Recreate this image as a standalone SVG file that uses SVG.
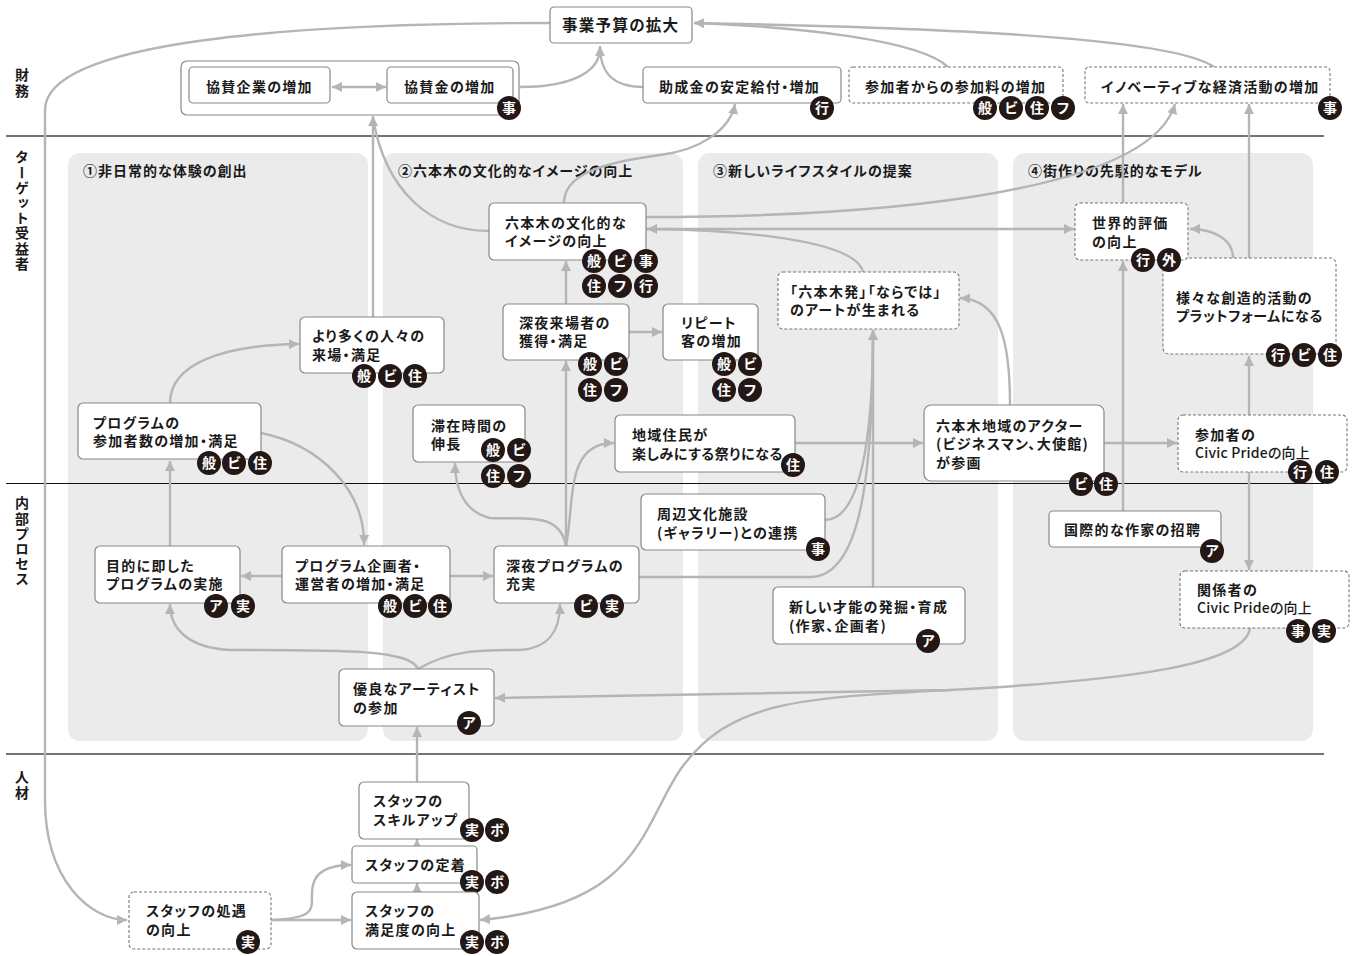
<svg xmlns="http://www.w3.org/2000/svg" width="1354" height="956" viewBox="0 0 1354 956">
<style>
text{font-family:"Noto Sans CJK JP","Noto Sans",sans-serif;font-weight:700;fill:#1a1a1a;font-feature-settings:"palt"}
.t{font-size:14px;letter-spacing:1.3px}
.h{font-size:14px;letter-spacing:1px}
.s{font-size:14px;letter-spacing:1.2px;writing-mode:vertical-rl;font-feature-settings:normal}
.n{fill:#fff;stroke:#888;stroke-width:1.2}
.d{fill:#fff;stroke:#777;stroke-width:1.1;stroke-dasharray:3 2}
.p{fill:#ebebeb}
.c path{fill:none;stroke:#b5b5b5;stroke-width:2.4}
.a{marker-end:url(#ah)}
.b{marker-start:url(#as);marker-end:url(#ah)}
.bg{fill:#231815}
.k{fill:#fff;font-size:14px;text-anchor:middle}
.r{stroke:#444;stroke-width:1.4}
.v{font-weight:500;letter-spacing:.2px}
</style>
<defs>
<marker id="ah" markerUnits="userSpaceOnUse" markerWidth="12" markerHeight="12" refX="10" refY="6" orient="auto"><path d="M0,1 L10,6 L0,11 Z" fill="#b5b5b5"/></marker>
<marker id="as" markerUnits="userSpaceOnUse" markerWidth="12" markerHeight="12" refX="0" refY="6" orient="auto"><path d="M10,1 L0,6 L10,11 Z" fill="#b5b5b5"/></marker>
</defs>
<rect width="1354" height="956" fill="#fff"/>
<g id="panels">
<rect class="p" x="68" y="153" width="300" height="588" rx="12"/>
<rect class="p" x="383" y="153" width="300" height="588" rx="12"/>
<rect class="p" x="698" y="153" width="300" height="588" rx="12"/>
<rect class="p" x="1013" y="153" width="300" height="588" rx="12"/>
<text class="h" x="83" y="176">①非日常的な体験の創出</text>
<text class="h" x="398" y="176">②六本木の文化的なイメージの向上</text>
<text class="h" x="713" y="176">③新しいライフスタイルの提案</text>
<text class="h" x="1028" y="176">④街作りの先駆的なモデル</text>
</g>
<g id="rows">
<line class="r" x1="6" y1="136" x2="1324" y2="136"/>
<line x1="6" y1="483.500" x2="1324" y2="483.500" stroke="#111" stroke-width="1"/>
<line class="r" x1="6" y1="754" x2="1324" y2="754"/>
<text class="s" x="22" y="68">財務</text>
<text class="s" x="22" y="150">ターゲット受益者</text>
<text class="s" x="22" y="496">内部プロセス</text>
<text class="s" x="22" y="770">人材</text>
</g>
<g id="n-group"><rect class="n" x="181" y="61" width="338" height="54" rx="6"/></g>
<g id="connectors" class="c">
<path class="a" d="M550,23 C300,23 45,40 45,110 L45,800 C45,880 90,920 127,920"/>
<path d="M520,87 C565,87 600,75 600,48"/>
<path class="a" d="M643,87 C615,87 600,75 600,46"/>
<path d="M948,67 C920,40 800,27 695,23"/>
<path class="a" d="M1214,67 C1170,35 900,27 694,23"/>
<path class="b" d="M332,87 L386,87"/>
<path class="a" d="M373,317 L373,116"/>
<path d="M489,231 C430,231 385,190 373,118"/>
<path class="a" d="M564,203 C564,175 600,163 660,155 C700,150 730,130 735,104"/>
<path class="a" d="M646,217 C900,217 1150,190 1175,104"/>
<path class="a" d="M646,229 L1074,229"/>
<path class="a" d="M863,272 C855,235 700,229 647,229"/>
<path class="a" d="M1123,203 L1123,104"/>
<path class="a" d="M1249,258 L1249,104"/>
<path class="a" d="M1233,258 C1233,240 1215,229 1190,229"/>
<path class="a" d="M1123,511 L1123,261"/>
<path class="a" d="M1249,415 L1249,356"/>
<path class="a" d="M1249,472 L1249,570"/>
<path class="a" d="M1250,628 C1245,665 1130,680 950,690 L495,698"/>
<path class="a" d="M950,690 C800,698 730,700 680,770 C640,830 640,905 480,920"/>
<path class="a" d="M170,403 C170,365 220,345 299,344"/>
<path class="a" d="M261,433 C320,445 365,490 364,545"/>
<path class="a" d="M170,546 L170,461"/>
<path class="a" d="M282,576 L241,576"/>
<path class="a" d="M450,576 L493,576"/>
<path class="a" d="M566,546 C560,510 520,520 490,518 C465,512 455,490 455,463"/>
<path class="a" d="M566,546 L566,361"/>
<path class="a" d="M566,304 L566,261"/>
<path class="a" d="M566,546 C575,500 565,443 614,443"/>
<path class="a" d="M795,443 L923,443"/>
<path class="a" d="M1104,443 L1177,443"/>
<path class="a" d="M629,332 L662,332"/>
<path class="a" d="M639,577 L810,577 C860,577 873,480 873,330"/>
<path d="M825,520 C860,520 873,440 873,332"/>
<path class="a" d="M873,587 L873,330"/>
<path class="a" d="M1010,405 C1010,340 1000,300 960,298"/>
<path class="a" d="M418,669 C410,650 350,650 230,650 C190,648 170,630 170,604"/>
<path class="a" d="M418,669 C450,650 480,650 520,650 C550,648 560,630 560,604"/>
<path class="a" d="M417,782 L417,727"/>
<path class="a" d="M417,846 L417,839"/>
<path class="a" d="M417,892 L417,883"/>
<path class="a" d="M271,920 L351,920"/>
<path class="a" d="M271,920 C325,918 308,905 313,885 C316,872 328,865 351,865"/>
</g>
<g id="n-budget"><rect class="n" x="550" y="7" width="142" height="36" rx="4"/><text class="t" x="562" y="31" style="font-size:15.500px">事業予算の拡大</text></g>
<g id="n-kigyo"><rect class="n" x="189" y="67" width="141" height="36" rx="4"/><text class="t" x="206" y="92">協賛企業の増加</text></g>
<g id="n-kyosan"><rect class="n" x="387" y="67" width="126" height="36" rx="4"/><text class="t" x="404" y="92">協賛金の増加</text><circle class="bg" cx="509" cy="108" r="12"/><text class="k" x="509" y="113">事</text></g>
<g id="n-josei"><rect class="n" x="643" y="67" width="198" height="36" rx="4"/><text class="t" x="659" y="92">助成金の安定給付・増加</text><circle class="bg" cx="822" cy="108" r="12"/><text class="k" x="822" y="113">行</text></g>
<g id="n-sankaryo"><rect class="d" x="849" y="67" width="214" height="36" rx="4"/><text class="t" x="865" y="92">参加者からの参加料の増加</text><circle class="bg" cx="985" cy="108" r="12"/><text class="k" x="985" y="113">般</text><circle class="bg" cx="1011" cy="108" r="12"/><text class="k" x="1011" y="113">ビ</text><circle class="bg" cx="1037" cy="108" r="12"/><text class="k" x="1037" y="113">住</text><circle class="bg" cx="1063" cy="108" r="12"/><text class="k" x="1063" y="113">フ</text></g>
<g id="n-inov"><rect class="d" x="1085" y="67" width="245" height="36" rx="4"/><text class="t" x="1101" y="92">イノベーティブな経済活動の増加</text><circle class="bg" cx="1330" cy="108" r="12"/><text class="k" x="1330" y="113">事</text></g>
<g id="n-platform"><rect class="d" x="1163" y="258" width="173" height="96" rx="6"/><text class="t" x="1176" y="303">様々な創造的活動の</text><text class="t" x="1176" y="321" style="letter-spacing:.7px">プラットフォームになる</text><circle class="bg" cx="1278" cy="355" r="12"/><text class="k" x="1278" y="360">行</text><circle class="bg" cx="1304" cy="355" r="12"/><text class="k" x="1304" y="360">ビ</text><circle class="bg" cx="1330" cy="355" r="12"/><text class="k" x="1330" y="360">住</text></g>
<g id="n-sekai"><rect class="d" x="1075" y="203" width="113" height="57" rx="5"/><text class="t" x="1092" y="228">世界的評価</text><text class="t" x="1092" y="247">の向上</text><circle class="bg" cx="1143" cy="260" r="12"/><text class="k" x="1143" y="265">行</text><circle class="bg" cx="1169" cy="260" r="12"/><text class="k" x="1169" y="265">外</text></g>
<g id="n-image"><rect class="n" x="489" y="203" width="157" height="57" rx="5"/><text class="t" x="505" y="228">六本木の文化的な</text><text class="t" x="505" y="246">イメージの向上</text><circle class="bg" cx="594" cy="261" r="12"/><text class="k" x="594" y="266">般</text><circle class="bg" cx="620" cy="261" r="12"/><text class="k" x="620" y="266">ビ</text><circle class="bg" cx="646" cy="261" r="12"/><text class="k" x="646" y="266">事</text><circle class="bg" cx="594" cy="286" r="12"/><text class="k" x="594" y="291">住</text><circle class="bg" cx="620" cy="286" r="12"/><text class="k" x="620" y="291">フ</text><circle class="bg" cx="646" cy="286" r="12"/><text class="k" x="646" y="291">行</text></g>
<g id="n-art"><rect class="d" x="778" y="272" width="181" height="57" rx="5"/><text class="t" x="790" y="297">「六本木発」「ならでは」</text><text class="t" x="790" y="315">のアートが生まれる</text></g>
<g id="n-raijo"><rect class="n" x="300" y="317" width="144" height="56" rx="5"/><text class="t" x="312" y="341">より多くの人々の</text><text class="t" x="312" y="360">来場・満足</text><circle class="bg" cx="364" cy="376" r="12"/><text class="k" x="364" y="381">般</text><circle class="bg" cx="390" cy="376" r="12"/><text class="k" x="390" y="381">ビ</text><circle class="bg" cx="415" cy="376" r="12"/><text class="k" x="415" y="381">住</text></g>
<g id="n-shinya"><rect class="n" x="503" y="304" width="126" height="56" rx="5"/><text class="t" x="519" y="328">深夜来場者の</text><text class="t" x="519" y="346">獲得・満足</text><circle class="bg" cx="590" cy="364" r="12"/><text class="k" x="590" y="369">般</text><circle class="bg" cx="616" cy="364" r="12"/><text class="k" x="616" y="369">ビ</text><circle class="bg" cx="590" cy="390" r="12"/><text class="k" x="590" y="395">住</text><circle class="bg" cx="616" cy="390" r="12"/><text class="k" x="616" y="395">フ</text></g>
<g id="n-repeat"><rect class="n" x="663" y="304" width="95" height="56" rx="5"/><text class="t" x="681" y="328">リピート</text><text class="t" x="681" y="346">客の増加</text><circle class="bg" cx="724" cy="364" r="12"/><text class="k" x="724" y="369">般</text><circle class="bg" cx="750" cy="364" r="12"/><text class="k" x="750" y="369">ビ</text><circle class="bg" cx="724" cy="390" r="12"/><text class="k" x="724" y="395">住</text><circle class="bg" cx="750" cy="390" r="12"/><text class="k" x="750" y="395">フ</text></g>
<g id="n-sankasha"><rect class="n" x="78" y="403" width="183" height="56" rx="5"/><text class="t" x="93" y="428">プログラムの</text><text class="t" x="93" y="446">参加者数の増加・満足</text><circle class="bg" cx="209" cy="463" r="12"/><text class="k" x="209" y="468">般</text><circle class="bg" cx="234" cy="463" r="12"/><text class="k" x="234" y="468">ビ</text><circle class="bg" cx="260" cy="463" r="12"/><text class="k" x="260" y="468">住</text></g>
<g id="n-taizai"><rect class="n" x="413" y="405" width="112" height="57" rx="5"/><text class="t" x="431" y="431">滞在時間の</text><text class="t" x="431" y="449">伸長</text><circle class="bg" cx="493" cy="450" r="12"/><text class="k" x="493" y="455">般</text><circle class="bg" cx="519" cy="450" r="12"/><text class="k" x="519" y="455">ビ</text><circle class="bg" cx="493" cy="476" r="12"/><text class="k" x="493" y="481">住</text><circle class="bg" cx="519" cy="476" r="12"/><text class="k" x="519" y="481">フ</text></g>
<g id="n-chiiki"><rect class="n" x="615" y="415" width="180" height="57" rx="5"/><text class="t" x="632" y="440">地域住民が</text><text class="t" x="632" y="459" style="letter-spacing:.6px">楽しみにする祭りになる</text><circle class="bg" cx="793" cy="465" r="12"/><text class="k" x="793" y="470">住</text></g>
<g id="n-actor"><rect class="n" x="924" y="405" width="180" height="76" rx="7"/><text class="t" x="936" y="431">六本木地域のアクター</text><text class="t" x="936" y="449">(ビジネスマン、大使館)</text><text class="t" x="936" y="468">が参画</text><circle class="bg" cx="1081" cy="484" r="12"/><text class="k" x="1081" y="489">ビ</text><circle class="bg" cx="1106" cy="484" r="12"/><text class="k" x="1106" y="489">住</text></g>
<g id="n-pride1"><rect class="d" x="1178" y="415" width="169" height="57" rx="5"/><text class="t" x="1195" y="440">参加者の</text><text class="t v" x="1195" y="458">Civic Prideの向上</text><circle class="bg" cx="1300" cy="472" r="12"/><text class="k" x="1300" y="477">行</text><circle class="bg" cx="1327" cy="472" r="12"/><text class="k" x="1327" y="477">住</text></g>
<g id="n-bunka"><rect class="n" x="641" y="494" width="184" height="56" rx="5"/><text class="t" x="657" y="519">周辺文化施設</text><text class="t" x="657" y="538">(ギャラリー)との連携</text><circle class="bg" cx="818" cy="549" r="12"/><text class="k" x="818" y="554">事</text></g>
<g id="n-kokusai"><rect class="n" x="1049" y="511" width="172" height="36" rx="4"/><text class="t" x="1064" y="535">国際的な作家の招聘</text><circle class="bg" cx="1212" cy="551" r="12"/><text class="k" x="1212" y="556">ア</text></g>
<g id="n-jisshi"><rect class="n" x="95" y="546" width="145" height="57" rx="5"/><text class="t" x="106" y="571">目的に即した</text><text class="t" x="106" y="589">プログラムの実施</text><circle class="bg" cx="216" cy="606" r="12"/><text class="k" x="216" y="611">ア</text><circle class="bg" cx="243" cy="606" r="12"/><text class="k" x="243" y="611">実</text></g>
<g id="n-kikaku"><rect class="n" x="282" y="546" width="168" height="57" rx="5"/><text class="t" x="295" y="571">プログラム企画者・</text><text class="t" x="295" y="589">運営者の増加・満足</text><circle class="bg" cx="390" cy="606" r="12"/><text class="k" x="390" y="611">般</text><circle class="bg" cx="415" cy="606" r="12"/><text class="k" x="415" y="611">ビ</text><circle class="bg" cx="440" cy="606" r="12"/><text class="k" x="440" y="611">住</text></g>
<g id="n-juujitsu"><rect class="n" x="494" y="546" width="145" height="57" rx="5"/><text class="t" x="506" y="571">深夜プログラムの</text><text class="t" x="506" y="589">充実</text><circle class="bg" cx="586" cy="606" r="12"/><text class="k" x="586" y="611">ビ</text><circle class="bg" cx="612" cy="606" r="12"/><text class="k" x="612" y="611">実</text></g>
<g id="n-pride2"><rect class="d" x="1180" y="571" width="169" height="57" rx="5"/><text class="t" x="1197" y="595">関係者の</text><text class="t v" x="1197" y="613">Civic Prideの向上</text><circle class="bg" cx="1298" cy="631" r="12"/><text class="k" x="1298" y="636">事</text><circle class="bg" cx="1324" cy="631" r="12"/><text class="k" x="1324" y="636">実</text></g>
<g id="n-sainou"><rect class="n" x="773" y="587" width="192" height="57" rx="5"/><text class="t" x="789" y="612">新しい才能の発掘・育成</text><text class="t" x="789" y="631">(作家、企画者)</text><circle class="bg" cx="928" cy="641" r="12"/><text class="k" x="928" y="646">ア</text></g>
<g id="n-artist"><rect class="n" x="339" y="669" width="155" height="57" rx="5"/><text class="t" x="353" y="694">優良なアーティスト</text><text class="t" x="353" y="713">の参加</text><circle class="bg" cx="469" cy="723" r="12"/><text class="k" x="469" y="728">ア</text></g>
<g id="n-skill"><rect class="n" x="359" y="782" width="110" height="57" rx="5"/><text class="t" x="373" y="806">スタッフの</text><text class="t" x="373" y="825">スキルアップ</text><circle class="bg" cx="472" cy="830" r="12"/><text class="k" x="472" y="835">実</text><circle class="bg" cx="497" cy="830" r="12"/><text class="k" x="497" y="835">ボ</text></g>
<g id="n-teichaku"><rect class="n" x="352" y="846" width="125" height="37" rx="4"/><text class="t" x="365" y="870">スタッフの定着</text><circle class="bg" cx="472" cy="882" r="12"/><text class="k" x="472" y="887">実</text><circle class="bg" cx="497" cy="882" r="12"/><text class="k" x="497" y="887">ボ</text></g>
<g id="n-manzoku"><rect class="n" x="352" y="892" width="127" height="57" rx="5"/><text class="t" x="365" y="916">スタッフの</text><text class="t" x="365" y="935">満足度の向上</text><circle class="bg" cx="472" cy="942" r="12"/><text class="k" x="472" y="947">実</text><circle class="bg" cx="497" cy="942" r="12"/><text class="k" x="497" y="947">ボ</text></g>
<g id="n-shogu"><rect class="d" x="129" y="892" width="142" height="57" rx="5"/><text class="t" x="146" y="916">スタッフの処遇</text><text class="t" x="146" y="935">の向上</text><circle class="bg" cx="248" cy="942" r="12"/><text class="k" x="248" y="947">実</text></g>
</svg>
